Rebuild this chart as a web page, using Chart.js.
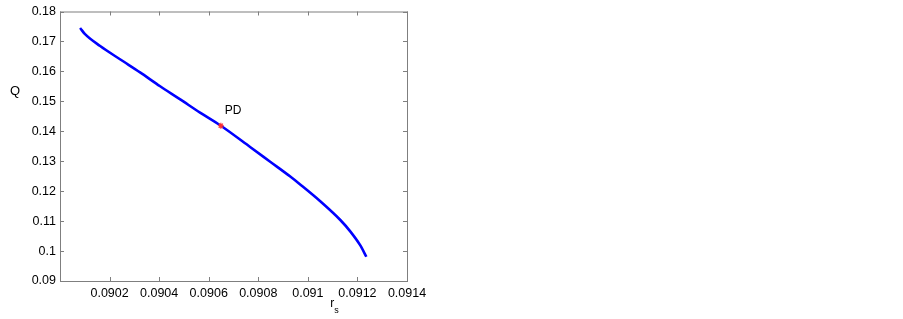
<!DOCTYPE html>
<html>
<head>
<meta charset="utf-8">
<script src="https://cdn.jsdelivr.net/npm/chart.js@4"></script>
<style>
html,body{margin:0;padding:0;background:#fff;}
#wrap{width:903px;height:319px;position:relative;}
</style>
</head>
<body>
<div id="wrap"><canvas id="c" width="903" height="319"></canvas></div>
<script>
const rsValues = [0.090081,0.090101,0.090162,0.090242,0.090323,0.090404,0.090485,0.090565,0.090649,0.090767,0.090848,0.090929,0.090969,0.091050,0.091131,0.091171,0.091211,0.091236];
const qValues  = [0.174494,0.172417,0.168460,0.164042,0.159657,0.155041,0.150656,0.146238,0.141853,0.134764,0.129819,0.124873,0.122235,0.116630,0.110366,0.106574,0.101958,0.098101];
const pdRs = [0.090649];
const pdQ = [0.141853];
const pdLabel = 'PD';
const xAxisTitle = 'r';
const xAxisSub = 's';
const yAxisTitle = 'Q';

const FONT = 'Arial, "Liberation Sans", Helvetica, sans-serif';

function fmt(v){ return String(Number(v.toFixed(5))); }

const boxPlugin = {
  id: 'box',
  afterDraw(chart){
    const {ctx, chartArea:a, scales} = chart;
    const xs = scales.x, ys = scales.y;
    ctx.save();
    ctx.strokeStyle = '#7f7f7f';
    ctx.lineWidth = 1;
    ctx.strokeRect(a.left+0.5, a.top+0.5, a.right-a.left, a.bottom-a.top);
    ctx.beginPath();
    xs.ticks.forEach(t=>{
      const x = Math.round(xs.getPixelForValue(t.value))+0.5;
      ctx.moveTo(x, a.bottom); ctx.lineTo(x, a.bottom-4);
      ctx.moveTo(x, a.top); ctx.lineTo(x, a.top+4);
    });
    ys.ticks.forEach(t=>{
      const y = Math.round(ys.getPixelForValue(t.value))+0.5;
      ctx.moveTo(a.left, y); ctx.lineTo(a.left+4, y);
      ctx.moveTo(a.right, y); ctx.lineTo(a.right-4, y);
    });
    ctx.stroke();
    // labels
    ctx.fillStyle = '#000';
    ctx.font = '12px ' + FONT;
    ctx.textBaseline = 'middle';
    ctx.textAlign = 'left';
    const px = xs.getPixelForValue(pdRs[0]), py = ys.getPixelForValue(pdQ[0]);
    ctx.fillText(pdLabel, px+4, py-15);
    // y title
    ctx.font = '13px ' + FONT;
    ctx.textAlign = 'center';
    ctx.fillText(yAxisTitle, 15, ys.getPixelForValue(0.1534));
    // x title with subscript
    const tx = xs.getPixelForValue(0.09110);
    ctx.textAlign = 'left';
    ctx.font = '12px ' + FONT;
    ctx.fillText(xAxisTitle, tx-2.5, 304);
    ctx.font = '9px ' + FONT;
    ctx.fillText(xAxisSub, tx+1.5, 311);
    ctx.restore();
  }
};

new Chart(document.getElementById('c'), {
  type: 'scatter',
  data: {
    datasets: [
      {
        data: rsValues.map((x,i)=>({x, y:qValues[i]})),
        showLine: true,
        borderColor: '#0000ff',
        backgroundColor: '#0000ff',
        borderWidth: 2.6,
        pointRadius: 0,
        cubicInterpolationMode: 'monotone',
        order: 2
      },
      {
        data: pdRs.map((x,i)=>({x, y:pdQ[i]})),
        showLine: false,
        pointStyle: 'star',
        pointRadius: 3,
        borderColor: '#ff3030',
        backgroundColor: '#ff3030',
        borderWidth: 1.2,
        order: 1
      }
    ]
  },
  options: {
    responsive: false,
    animation: false,
    events: [],
    layout: { padding: { left: 0, right: 496, top: 8, bottom: 0 } },
    plugins: { legend: {display:false}, tooltip: {enabled:false} },
    scales: {
      x: {
        type: 'linear',
        min: 0.09, max: 0.0914,
        grid: { display: false, drawTicks: false },
        border: { display: false },
        ticks: {
          stepSize: 0.0002,
          padding: 5,
          color: '#000',
          font: { family: FONT, size: 12.5 },
          maxRotation: 0,
          autoSkip: false,
          callback: (v)=> Math.abs(v-0.09) < 1e-9 ? '' : fmt(v)
        },
        afterFit(s){ s.height = 38; }
      },
      y: {
        type: 'linear',
        min: 0.09, max: 0.18,
        grid: { display: false, drawTicks: false },
        border: { display: false },
        ticks: {
          stepSize: 0.01,
          padding: 4,
          color: '#000',
          font: { family: FONT, size: 12.5 },
          autoSkip: false,
          callback: (v)=> fmt(v)
        },
        afterFit(s){ s.width = 60; }
      }
    }
  },
  plugins: [boxPlugin]
});
</script>
</body>
</html>
